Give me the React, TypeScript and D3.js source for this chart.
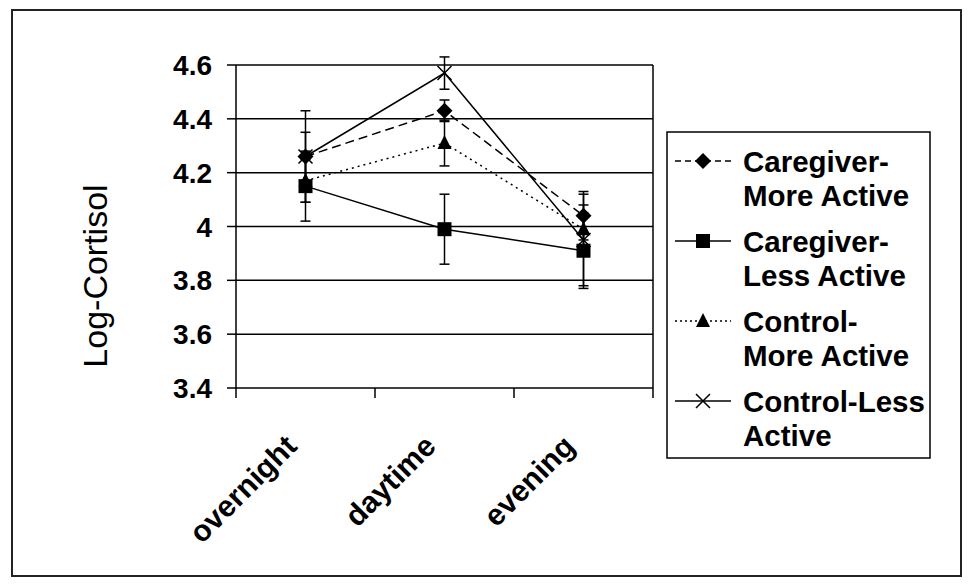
import * as d3 from "d3";

const categories = ["overnight", "daytime", "evening"];
const yTicks = [3.4, 3.6, 3.8, 4, 4.2, 4.4, 4.6];

// series means and error bar half-widths
const cgMore = [4.26, 4.43, 4.04];
const cgMoreErr = [0.09, 0.04, 0.09];
const cgLess = [4.15, 3.99, 3.91];
const cgLessErr = [0.13, 0.13, 0.14];
const ctMore = [4.17, 4.31, 3.99];
const ctMoreErr = [0.08, 0.085, 0.09];
const ctLess = [4.26, 4.57, 3.95];
const ctLessErr = [0.17, 0.06, 0.17];

const legendLines = [
  ["Caregiver-", "More Active"],
  ["Caregiver-", "Less Active"],
  ["Control-", "More Active"],
  ["Control-Less", "Active"],
];

const series = [
  { values: cgMore, err: cgMoreErr, dash: "9,5", marker: "diamond" },
  { values: cgLess, err: cgLessErr, dash: null, marker: "square" },
  { values: ctMore, err: ctMoreErr, dash: "2,4", marker: "triangle" },
  { values: ctLess, err: ctLessErr, dash: null, marker: "cross" },
];

const FONT = "'Liberation Sans', Arial, sans-serif";

function Marker({ type, x, y }) {
  if (type === "diamond") {
    return <path d={`M${x},${y - 8}L${x + 8},${y}L${x},${y + 8}L${x - 8},${y}Z`} fill="#000" />;
  }
  if (type === "square") {
    return <rect x={x - 7} y={y - 7} width={14} height={14} fill="#000" />;
  }
  if (type === "triangle") {
    return <path d={`M${x},${y - 8}L${x + 7},${y + 6}L${x - 7},${y + 6}Z`} fill="#000" />;
  }
  return (
    <path
      d={`M${x - 7},${y - 7}L${x + 7},${y + 7}M${x + 7},${y - 7}L${x - 7},${y + 7}`}
      stroke="#000"
      strokeWidth={1.5}
    />
  );
}

export default function App() {
  const left = 236;
  const right = 653;
  const top = 65;
  const bottom = 388;

  const x = d3.scaleBand().domain(categories).range([left, right]);
  const y = d3.scaleLinear().domain([3.4, 4.6]).range([bottom, top]);
  const cx = (c) => x(c) + x.bandwidth() / 2;

  const line = d3
    .line()
    .x((d, i) => cx(categories[i]))
    .y((d) => y(d));

  const xTickPos = [...categories.map((c) => x(c)), right];

  return (
    <svg
      width={974}
      height={588}
      style={{ position: "absolute", left: 0, top: 0, background: "#fff" }}
      fontFamily={FONT}
    >
      <rect x={12} y={10} width={949} height={566} fill="#fff" stroke="#222" strokeWidth={2} />

      {/* gridlines */}
      {yTicks.map((t) => (
        <line key={t} x1={left} x2={right} y1={y(t)} y2={y(t)} stroke="#000" strokeWidth={1.5} />
      ))}
      <line x1={right} x2={right} y1={top} y2={bottom} stroke="#000" strokeWidth={1.5} />

      {/* y axis */}
      <line x1={left} x2={left} y1={top} y2={bottom} stroke="#000" strokeWidth={1.5} />
      {yTicks.map((t) => (
        <g key={"yt" + t}>
          <line x1={left - 9} x2={left} y1={y(t)} y2={y(t)} stroke="#000" strokeWidth={1.5} />
          <text
            x={left - 24}
            y={y(t)}
            dy="0.36em"
            textAnchor="end"
            fontSize={28}
            fontWeight="bold"
          >
            {d3.format("")(t)}
          </text>
        </g>
      ))}
      <text
        transform={`translate(107,276) rotate(-90)`}
        textAnchor="middle"
        fontSize={34}
      >
        Log-Cortisol
      </text>

      {/* x axis */}
      {xTickPos.map((p, i) => (
        <line key={"xt" + i} x1={p} x2={p} y1={bottom} y2={bottom + 10} stroke="#000" strokeWidth={1.5} />
      ))}
      {categories.map((c) => (
        <text
          key={c}
          transform={`translate(${cx(c) - 7},${bottom + 60}) rotate(-45)`}
          textAnchor="end"
          fontSize={30}
          fontWeight="bold"
        >
          {c}
        </text>
      ))}

      {/* error bars */}
      {series.map((s, si) =>
        s.values.map((v, i) => {
          const px = cx(categories[i]);
          const hi = y(v + s.err[i]);
          const lo = y(v - s.err[i]);
          return (
            <g key={"e" + si + i} stroke="#000" strokeWidth={1.5}>
              <line x1={px} x2={px} y1={hi} y2={lo} />
              <line x1={px - 5} x2={px + 5} y1={hi} y2={hi} />
              <line x1={px - 5} x2={px + 5} y1={lo} y2={lo} />
            </g>
          );
        })
      )}

      {/* series lines and markers */}
      {series.map((s, si) => (
        <g key={"s" + si}>
          <path
            d={line(s.values)}
            fill="none"
            stroke="#000"
            strokeWidth={1.5}
            strokeDasharray={s.dash || undefined}
          />
          {s.values.map((v, i) => (
            <Marker key={i} type={s.marker} x={cx(categories[i])} y={y(v)} />
          ))}
        </g>
      ))}

      {/* legend */}
      <rect x={667} y={132} width={263} height={326} fill="#fff" stroke="#000" strokeWidth={1.5} />
      {series.map((s, si) => {
        const ly = 161 + si * 80;
        return (
          <g key={"l" + si}>
            <line
              x1={675}
              x2={731}
              y1={ly}
              y2={ly}
              stroke="#000"
              strokeWidth={1.5}
              strokeDasharray={s.dash ? (s.dash === "9,5" ? "6,4" : "2,3") : undefined}
            />
            <Marker type={s.marker} x={703} y={ly} />
            {legendLines[si].map((t, li) => (
              <text
                key={li}
                x={743}
                y={ly + li * 34}
                dy="0.36em"
                fontSize={29.5}
                fontWeight="bold"
              >
                {t}
              </text>
            ))}
          </g>
        );
      })}
    </svg>
  );
}
